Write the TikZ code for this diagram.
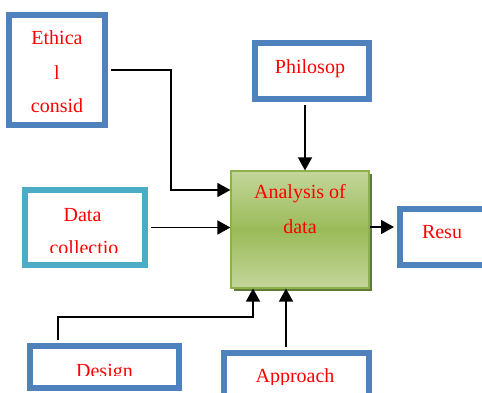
\documentclass[tikz,border=0pt]{standalone}
\usepackage{fontspec}
\setmainfont{Liberation Serif}
\usetikzlibrary{arrows.meta,shadows}
\definecolor{boxblue}{HTML}{4F81BD}
\definecolor{boxteal}{HTML}{4BACC6}
\definecolor{gLight}{HTML}{C3D69B}
\definecolor{gMid}{HTML}{9BBB59}
\definecolor{gEdge}{HTML}{8FB04E}
\definecolor{gShadow}{HTML}{627A33}
\definecolor{txtred}{HTML}{FF0000}
\begin{document}
\begin{tikzpicture}[x=1pt,y=-1pt,
  frame/.style={rectangle,draw=boxblue,line width=6pt,fill=white,inner sep=0pt},
  lbl/.style={text=txtred,font=\fontsize{20}{24}\selectfont,anchor=base,inner sep=0pt},
  arr/.style={draw=black,line width=1.6pt,-{Triangle[length=13pt,width=14pt]}}]
\useasboundingbox (0,0) rectangle (482,392);
\clip (0,0) rectangle (482,392);
% boxes
\node[frame,minimum width=96pt,minimum height=110pt] (eth) at (57,70) {};
\node[frame,minimum width=114pt,minimum height=56pt] (phi) at (312,71) {};
\node[frame,draw=boxteal,minimum width=120pt,minimum height=75pt] (dat) at (85,227.5) {};
\node[rectangle,draw=gEdge,line width=1.2pt,minimum width=138pt,minimum height=117pt,
      top color=gLight,bottom color=gLight,middle color=gMid,
      general shadow={fill=gShadow,shadow xshift=3pt,shadow yshift=-3pt}] (ana) at (300,229.5) {};
\node[frame,minimum width=88pt,minimum height=56pt] (res) at (444,237) {};
\node[frame,minimum width=149pt,minimum height=42pt] (des) at (104.5,367) {};
\node[frame,minimum width=145pt,minimum height=50pt] (app) at (296.5,378) {};
% texts
\node[lbl] (ethA) at (57,44) {Ethica};
\node[lbl] (ethB) at (57,79) {l};
\node[lbl] (ethC) at (57,112) {consid};
\node[lbl] (phiT) at (310,73) {Philosop};
\begin{scope}
  \clip (28,194) rectangle (142,252);
  \node[lbl] (datA) at (82.5,221) {Data};
  \node[lbl] (datB) at (84,254) {collectio};
\end{scope}
\node[lbl] (anaA) at (300,198) {Analysis of};
\node[lbl] (anaB) at (300,233) {data};
\node[lbl] (resT) at (442,238) {Resu};
\begin{scope}
  \clip (34,349) rectangle (176,375);
  \node[lbl] (desT) at (104.5,377) {Design};
\end{scope}
\begin{scope}
  \clip (228,356) rectangle (366,384);
  \node[lbl] (appT) at (295,382) {Approach};
\end{scope}
% connectors
\draw[arr,line width=1.3pt,shorten <=3pt] (eth.east) -- (171,70) |- (ana.west |- 0,190);
\draw[arr,shorten <=3pt] (phi.south -| 305,0) -- (ana.north -| 305,0);
\draw[arr,shorten <=3pt] (dat.east) -- (ana.west |- dat.east);
\draw[arr,shorten >=3pt] (ana.east |- 0,227) -- (res.west |- 0,227);
\draw[arr,shorten <=3pt] (des.north -| 58,0) -- (58,317) -| (ana.south -| 253,0);
\draw[arr,shorten <=3pt] (app.north -| 286,0) -- (ana.south -| 286,0);
\end{tikzpicture}
\end{document}
